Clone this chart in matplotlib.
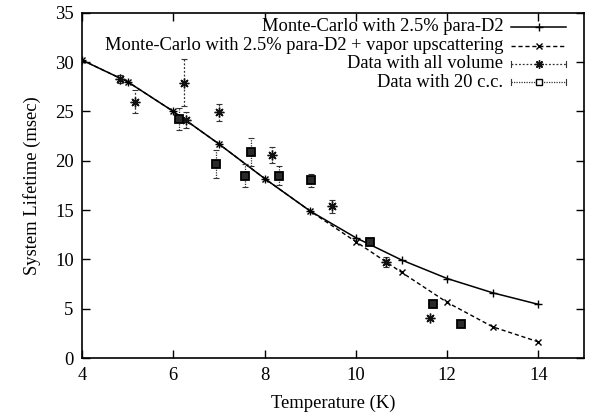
import matplotlib.pyplot as plt
import numpy as np

plt.rcParams['font.family'] = ['Liberation Serif', 'DejaVu Serif']

# Monte-Carlo curves
mc_T = [4, 5, 6, 7, 8, 9, 10, 11, 12, 13, 14]
mc_life = [30.2, 28.0, 25.0, 21.7, 18.2, 14.9, 12.2, 9.95, 8.07, 6.62, 5.45]
mc_vapor_life = [30.2, 28.0, 25.0, 21.7, 18.2, 14.9, 11.8, 8.7, 5.65, 3.17, 1.65]

# data with all volume
all_T = [4.83, 5.17, 6.23, 6.28, 7.0, 8.16, 9.47, 10.67, 11.63]
all_life = [28.25, 26.0, 27.9, 24.1, 24.9, 20.6, 15.4, 9.7, 4.1]
all_err = [0.4, 1.2, 2.4, 0.8, 0.85, 0.8, 0.65, 0.5, 0.2]

# data with 20 c.c.
cc_T = [6.12, 6.93, 7.58, 7.71, 8.31, 9.01, 10.3, 11.7, 12.3]
cc_life = [24.2, 19.7, 18.5, 20.9, 18.5, 18.0, 11.8, 5.5, 3.5]
cc_err = [1.1, 1.4, 1.15, 1.45, 0.95, 0.65, 0.3, 0.3, 0.2]

labels = ['Monte-Carlo with 2.5% para-D2',
          'Monte-Carlo with 2.5% para-D2 + vapor upscattering',
          'Data with all volume',
          'Data with 20 c.c.']

fig = plt.figure(figsize=(5.9, 4.16), dpi=100)
ax = fig.add_axes([0.139, 0.139, 0.851, 0.8305])

asterisk = (8, 2, 0)

ax.plot(mc_T, mc_life, '-', color='black', lw=1.1, marker='+', ms=6, mew=1.0)
ax.plot(mc_T, mc_vapor_life, '--', color='black', lw=1.0, marker='x', ms=5, mew=1.0,
        dashes=(3, 2))

eb = ax.errorbar(all_T, all_life, yerr=all_err, fmt='none', ecolor='#333333',
                 elinewidth=0.9, capsize=2.5, capthick=0.8)
eb[2][0].set_linestyle((0, (1.5, 1.5)))
ax.plot(all_T, all_life, ls='none', marker=asterisk, ms=7, mew=1.0, color='#111111')

eb2 = ax.errorbar(cc_T, cc_life, yerr=cc_err, fmt='none', ecolor='#333333',
                  elinewidth=0.9, capsize=2.5, capthick=0.8)
eb2[2][0].set_linestyle((0, (1, 1)))
ax.plot(cc_T, cc_life, ls='none', marker='s', ms=6, mew=1.3, mfc='#2a2a2a',
        mec='black')

ax.set_xlim(4, 15)
ax.set_ylim(0, 35)
ax.set_xticks([4, 6, 8, 10, 12, 14])
ax.set_yticks(np.arange(0, 36, 5))
ax.tick_params(direction='in', length=6, width=1, top=True, right=True,
               labelsize=13.4, pad=6)
for s in ax.spines.values():
    s.set_linewidth(1.2)
ax.set_xlabel('Temperature (K)', fontsize=13.4, labelpad=8)
ax.set_ylabel('System Lifetime (msec)', fontsize=13.4, labelpad=10)

# legend drawn gnuplot-style: right aligned text, sample to the right
rows = [0.959, 0.904, 0.852, 0.799]
x_txt = 0.839
x0, x1 = 0.855, 0.964
xm = (x0 + x1) / 2
tr = ax.transAxes
for y, lab in zip(rows, labels):
    ax.text(x_txt, y, lab, transform=tr, ha='right', va='center', fontsize=13.3)
ax.plot([x0, x1], [rows[0]] * 2, '-', color='black', lw=1.1, transform=tr)
ax.plot([xm], [rows[0]], marker='+', ms=6, mew=1.0, color='black', transform=tr)
ax.plot([x0, x1], [rows[1]] * 2, '--', color='black', lw=1.0, dashes=(3, 2),
        transform=tr)
ax.plot([xm], [rows[1]], marker='x', ms=5, mew=1.0, color='black', transform=tr)
for y, ls, mk in [(rows[2], (0, (1.5, 1.5)), 'ast'), (rows[3], (0, (1, 1)), 'sq')]:
    ax.plot([x0, x1], [y, y], color='#333333', lw=0.9, ls=ls, transform=tr)
    ax.plot([x0, x0], [y - 0.008, y + 0.008], color='#333333', lw=0.8, transform=tr)
    ax.plot([x1, x1], [y - 0.008, y + 0.008], color='#333333', lw=0.8, transform=tr)
    if mk == 'ast':
        ax.plot([xm], [y], marker=asterisk, ms=6, mew=1.0, color='#111111',
                transform=tr)
    else:
        ax.plot([xm], [y], marker='s', ms=5, mew=1.0, mfc='white', mec='black',
                transform=tr)

fig.savefig('out.png', dpi=100)
